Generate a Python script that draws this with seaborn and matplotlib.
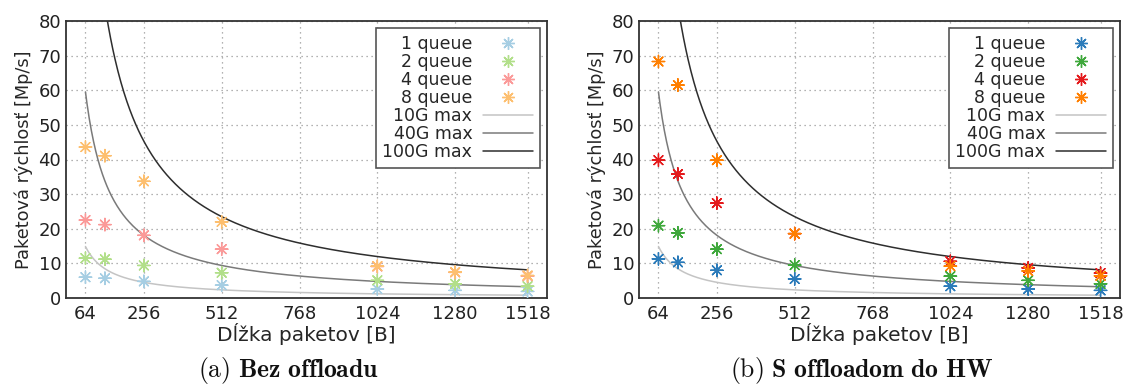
import numpy as np
import pandas as pd
import matplotlib
matplotlib.use("Agg")
import matplotlib.pyplot as plt
from matplotlib.lines import Line2D
import seaborn as sns

sns.set_theme(style="white")
plt.rcParams['font.family'] = ['DejaVu Sans']
plt.rcParams['mathtext.fontset'] = 'cm'

# ---- data ----
packet_sizes = [64, 128, 256, 512, 1024, 1280, 1518]
queues = ["1 queue", "2 queue", "4 queue", "8 queue"]

# (a) Bez offloadu
a_q1 = [6.0, 5.7, 4.8, 3.7, 2.6, 2.2, 1.9]
a_q2 = [11.5, 11.2, 9.4, 7.3, 5.1, 4.1, 3.4]
a_q4 = [22.5, 21.2, 18.1, 14.1, 9.1, 7.4, 6.3]
a_q8 = [43.6, 41.1, 33.7, 22.0, 9.2, 7.5, 6.5]

# (b) S offloadom do HW
b_q1 = [11.3, 10.3, 8.0, 5.5, 3.4, 2.6, 2.2]
b_q2 = [20.9, 18.8, 14.1, 9.5, 6.3, 5.1, 4.1]
b_q4 = [39.8, 35.8, 27.4, 18.6, 10.6, 8.7, 7.2]
b_q8 = [68.3, 61.5, 39.8, 18.6, 9.2, 7.8, 6.4]

# theoretical maxima: line rates in Gb/s, 20 B of preamble + IFG per frame
line_rates = [10, 40, 100]
line_labels = ["10G max", "40G max", "100G max"]
overhead_bytes = 20

x_ticks = [64, 256, 512, 768, 1024, 1280, 1518]
y_ticks = [0, 10, 20, 30, 40, 50, 60, 70, 80]

titles = [r"$\mathrm{(a)}\ \mathbf{Bez\ offloadu}$",
          r"$\mathrm{(b)}\ \mathbf{S\ offloadom\ do\ HW}$"]

light_colors = ["#a6cee3", "#b2df8a", "#fb9a99", "#fdbf6f"]
dark_colors = ["#2b7bba", "#3fa83c", "#e41a1c", "#ff7f00"]
line_colors = ["#c4c4c4", "#7a7a7a", "#2e2e2e"]


def make_points(series):
    rows = []
    for q, vals in zip(queues, series):
        for x, v in zip(packet_sizes, vals):
            rows.append({"size": x, "rate": v, "queue": q})
    return pd.DataFrame(rows)


def make_curves():
    xs = np.linspace(packet_sizes[0], packet_sizes[-1], 600)
    rows = []
    for r, lab in zip(line_rates, line_labels):
        ys = r * 1e9 / ((xs + overhead_bytes) * 8) / 1e6
        for x, y in zip(xs, ys):
            rows.append({"size": x, "rate": y, "line": lab})
    return pd.DataFrame(rows)


W, H = 1129, 387
fig = plt.figure(figsize=(W / 100, H / 100), dpi=100)
ax_boxes = [(66, 21, 481, 277), (639, 21, 481, 277)]
curves = make_curves()
marker = (8, 2, 0)

for i, (series, pal) in enumerate([([a_q1, a_q2, a_q4, a_q8], light_colors),
                                    ([b_q1, b_q2, b_q4, b_q8], dark_colors)]):
    x0, y0, w, h = ax_boxes[i]
    ax = fig.add_axes([x0 / W, 1 - (y0 + h) / H, w / W, h / H])
    pts = make_points(series)

    sns.lineplot(data=curves, x="size", y="rate", hue="line",
                 palette=line_colors, hue_order=line_labels, ax=ax,
                 legend=False, linewidth=1.1, zorder=2)
    sns.scatterplot(data=pts, x="size", y="rate", hue="queue",
                    palette=pal, hue_order=queues, marker=marker, s=80,
                    linewidths=1.0, ax=ax, legend=False, zorder=3)

    ax.set_xlim(0, 1582)
    ax.set_ylim(0, 80)
    ax.set_xticks(x_ticks)
    ax.set_yticks(y_ticks)
    ax.tick_params(axis="both", labelsize=13, direction="in", length=4,
                   width=1, colors="#222222", top=False, right=False)
    ax.tick_params(axis="x", pad=5)
    ax.grid(True, linestyle=(0, (1, 3)), color="#999999", linewidth=0.9)
    for sp in ax.spines.values():
        sp.set_color("#333333")
        sp.set_linewidth(1.3)
    ax.set_xlabel("Dĺžka paketov [B]", fontsize=14.5, labelpad=0)
    ax.set_ylabel("Paketová rýchlosť [Mp/s]", fontsize=12.8, labelpad=4)

    handles = [Line2D([], [], linestyle="none", marker=marker, markersize=9,
                      markeredgewidth=1.0, color=c) for c in pal]
    handles += [Line2D([], [], color=c, linewidth=1.1) for c in line_colors]
    leg = ax.legend(handles, queues + line_labels, loc="upper right",
                    markerfirst=False, fontsize=12.5, frameon=True,
                    fancybox=False, edgecolor="#555555", framealpha=1,
                    labelspacing=0.0, handlelength=2.9, handletextpad=0.6,
                    borderpad=0.4, borderaxespad=0.4)
    leg.get_frame().set_linewidth(1.2)
    for t in leg.get_texts():
        t.set_ha("right")
    leg._legend_box.align = "right"

    fig.text((x0 + w / 2 - 18) / W, 1 - 370 / H, titles[i], ha="center",
             va="center", fontsize=18.5, color="#111111")

fig.savefig("out.png", dpi=100)
